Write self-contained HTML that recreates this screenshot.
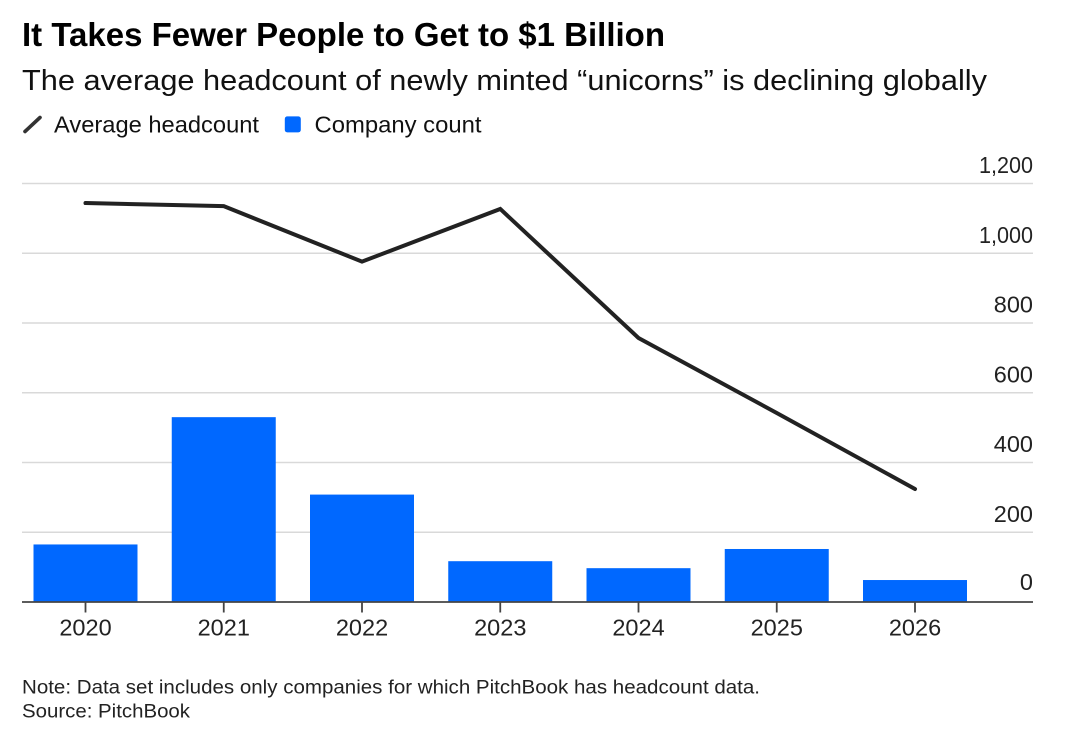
<!DOCTYPE html>
<html lang="en">
<head>
<meta charset="utf-8">
<title>It Takes Fewer People to Get to $1 Billion</title>
<style>
  html, body { margin: 0; padding: 0; background: #fff; }
  body { width: 1080px; height: 751px; overflow: hidden; }
  svg { display: block; font-family: "Liberation Sans", Arial, sans-serif; }
</style>
</head>
<body>
<svg id="chart" width="1080" height="751" viewBox="0 0 1080 751" xmlns="http://www.w3.org/2000/svg">
  <rect width="1080" height="751" fill="#ffffff"/>
  <text x="22" y="46" font-size="33" font-weight="700" fill="#000" textLength="643" lengthAdjust="spacingAndGlyphs">It Takes Fewer People to Get to $1 Billion</text>
  <text x="22" y="90" font-size="29" fill="#111" textLength="965" lengthAdjust="spacingAndGlyphs">The average headcount of newly minted “unicorns” is declining globally</text>
  <g>
    <g>
      <line x1="25" y1="131.5" x2="40" y2="117.5" stroke="#333" stroke-width="3.6" stroke-linecap="round"/>
      <text x="54" y="132.3" font-size="23.5" fill="#111" textLength="205" lengthAdjust="spacingAndGlyphs">Average headcount</text>
    </g>
    <g>
      <rect x="284.8" y="116.4" width="16" height="16" rx="2.5" fill="#0068ff"/>
      <text x="314.5" y="132.3" font-size="23.5" fill="#111" textLength="167" lengthAdjust="spacingAndGlyphs">Company count</text>
    </g>
  </g>
  <g id="grid"></g>
  <g id="bars"></g>
  <g id="axis"></g>
  <g id="ylabels"></g>
  <g id="linelayer"></g>
  <text x="22" y="693.3" font-size="19.8" fill="#222" textLength="738" lengthAdjust="spacingAndGlyphs">Note: Data set includes only companies for which PitchBook has headcount data.</text>
  <text x="22" y="717.3" font-size="19.8" fill="#222" textLength="168" lengthAdjust="spacingAndGlyphs">Source: PitchBook</text>
</svg>
<script>
const years = ['2020', '2021', '2022', '2023', '2024', '2025', '2026'];
const companyCount = [165, 530, 308, 117, 97, 152, 63];
const averageHeadcount = [1144, 1135, 976, 1127, 757, 542, 324];
const yTicks = [0, 200, 400, 600, 800, 1000, 1200];

const NS = 'http://www.w3.org/2000/svg';
const yZero = 602;
const yTop = 183.5;
const yMax = 1200;
const xFirst = 85.5;
const xStep = 138.25;
const barWidth = 104;
const plotLeft = 22;
const plotRight = 1033;

function yScale(v) { return yZero - (v / yMax) * (yZero - yTop); }
function xScale(i) { return xFirst + i * xStep; }
function make(tag, attrs, parent) {
  const el = document.createElementNS(NS, tag);
  for (const k in attrs) el.setAttribute(k, attrs[k]);
  parent.appendChild(el);
  return el;
}

const grid = document.getElementById('grid');
const ylabels = document.getElementById('ylabels');
yTicks.forEach(function (t) {
  if (t !== 0) {
    const g = make('line', { x1: plotLeft, x2: plotRight, y1: yScale(t), y2: yScale(t), stroke: '#d9d9d9', 'stroke-width': 1.6 }, grid);
    
    
  }
  const labelGap = t === 0 ? 12 : 10.5;
  const lab = make('text', { x: plotRight, y: yScale(t) - labelGap, 'text-anchor': 'end', 'font-size': 23.5, fill: '#222' }, ylabels);
  if (t >= 1000) {
    lab.setAttribute('textLength', 54);
    lab.setAttribute('lengthAdjust', 'spacingAndGlyphs');
  }
  lab.textContent = t.toLocaleString('en-US');
  
  
});

const axis = document.getElementById('axis');
const baseline = make('line', { x1: plotLeft, x2: plotRight, y1: yZero, y2: yZero, stroke: '#444', 'stroke-width': 1.8 }, axis);



const bars = document.getElementById('bars');
years.forEach(function (yr, i) {
  const cx = xScale(i);
  const top = yScale(companyCount[i]);
  const b = make('rect', { x: cx - barWidth / 2, y: top, width: barWidth, height: yZero - top, fill: '#0068ff' }, bars);
  
  
});

years.forEach(function (yr, i) {
  const cx = xScale(i);
  const tick = make('line', { x1: cx, x2: cx, y1: yZero, y2: yZero + 10.5, stroke: '#444', 'stroke-width': 1.8 }, axis);
  
  
  const lab = make('text', { x: cx, y: 635.5, 'text-anchor': 'middle', 'font-size': 23.5, fill: '#222' }, axis);
  lab.textContent = yr;
  
  
});

const pts = averageHeadcount.map(function (v, i) { return xScale(i) + ',' + yScale(v); }).join(' ');
const line = make('polyline', { points: pts, fill: 'none', stroke: '#222', 'stroke-width': 4, 'stroke-linejoin': 'miter', 'stroke-linecap': 'round' }, document.getElementById('linelayer'));


</script>
</body>
</html>
